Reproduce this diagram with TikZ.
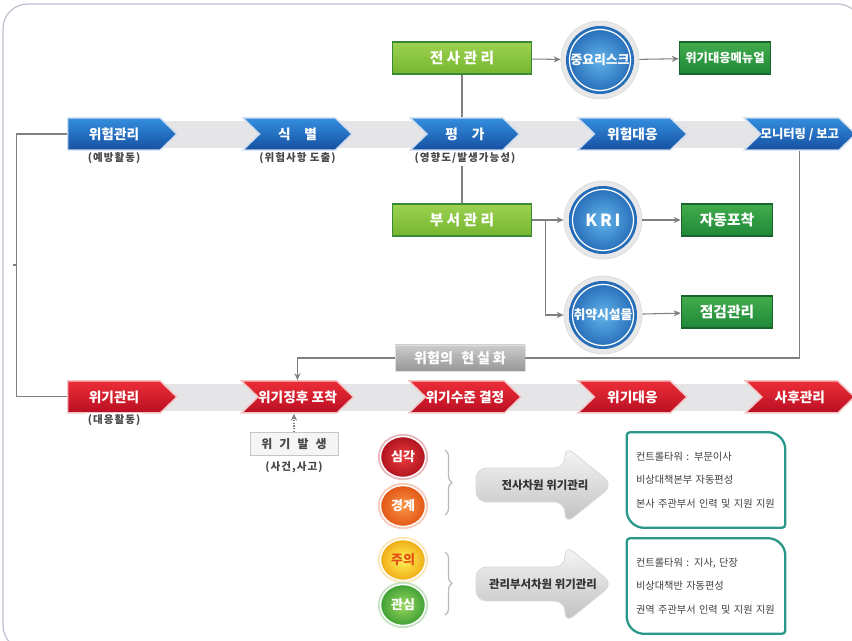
\documentclass[tikz,border=0pt]{standalone}
\usepackage{fontspec}
\setmainfont{Noto Sans CJK KR}
\usetikzlibrary{arrows.meta,positioning,shapes.symbols,shapes.geometric,decorations.pathreplacing}

\definecolor{blueT}{RGB}{52,142,222}
\definecolor{blueB}{RGB}{22,80,162}
\definecolor{blueE}{RGB}{205,220,238}
\definecolor{redT}{RGB}{236,46,56}
\definecolor{redB}{RGB}{184,14,34}
\definecolor{redE}{RGB}{242,196,196}
\definecolor{limeT}{RGB}{156,210,80}
\definecolor{limeB}{RGB}{118,182,48}
\definecolor{limeE}{RGB}{58,138,52}
\definecolor{pineT}{RGB}{66,172,76}
\definecolor{pineB}{RGB}{30,136,56}
\definecolor{pineE}{RGB}{24,100,44}
\definecolor{ballC}{RGB}{98,178,232}
\definecolor{ballE}{RGB}{26,96,176}
\definecolor{linkgray}{RGB}{128,128,128}
\definecolor{bandgray}{RGB}{229,229,231}
\definecolor{framegray}{RGB}{192,192,208}
\definecolor{boxteal}{RGB}{42,152,136}
\definecolor{subgray}{RGB}{70,70,70}
\definecolor{sevC}{RGB}{236,60,60}
\definecolor{sevE}{RGB}{176,20,32}
\definecolor{warnC}{RGB}{250,150,70}
\definecolor{warnE}{RGB}{226,86,22}
\definecolor{careC}{RGB}{255,242,90}
\definecolor{careE}{RGB}{240,172,20}
\definecolor{careT}{RGB}{228,78,20}
\definecolor{watchC}{RGB}{156,216,96}
\definecolor{watchE}{RGB}{62,160,52}

\begin{document}
\begin{tikzpicture}[x=0.02cm,y=-0.02cm,>={Stealth[length=4pt,width=3.5pt]},
    on grid,node distance=3.35cm,
    link/.style={draw=linkgray,line width=0.6pt},
    flow/.style={signal,signal to=east,signal from=west,signal pointer angle=88,
      minimum width=2.18cm,minimum height=0.64cm,inner sep=0pt,line width=0.8pt,
      text=white,font=\bfseries\fontsize{7.8}{9}\selectfont},
    first/.style={signal from=nowhere},
    bluestep/.style={flow,top color=blueT,bottom color=blueB,draw=blueE},
    redstep/.style={flow,top color=redT,bottom color=redB,draw=redE},
    note/.style={font=\bfseries\fontsize{6}{8}\selectfont\addfontfeature{LetterSpace=10},
      text=subgray,fill=white,inner sep=1pt},
    limebox/.style={rectangle,minimum width=2.78cm,minimum height=0.63cm,top color=limeT,
      bottom color=limeB,draw=limeE,line width=0.9pt,text=white,
      font=\bfseries\fontsize{8.4}{10}\selectfont},
    pinebox/.style={rectangle,minimum width=1.82cm,minimum height=0.65cm,top color=pineT,
      bottom color=pineB,draw=pineE,line width=0.9pt,text=white,
      font=\bfseries\fontsize{8.4}{10}\selectfont},
    ball/.style={circle,minimum size=1.56cm,inner sep=0pt,fill=gray!18,draw=gray!28,
      line width=0.4pt,text=white,font=\bfseries\fontsize{7.3}{8}\selectfont,
      path picture={
        \shade[inner color=ballC,outer color=ballE] (path picture bounding box.center) circle (0.68cm);
        \draw[white,line width=0.7pt] (path picture bounding box.center) circle (0.61cm);}},
    level/.style n args={3}{ellipse,minimum width=0.9cm,minimum height=0.82cm,inner sep=0pt,
      inner color=#1,outer color=#2,draw=white,line width=0.8pt,text=#3,
      preaction={draw=#2!30,line width=3pt},font=\bfseries\fontsize{7.4}{8}\selectfont},
    realbox/.style={rectangle,minimum width=2.6cm,minimum height=0.52cm,top color=gray!40,
      bottom color=gray!82,draw=gray!25,text=white,
      font=\bfseries\fontsize{8}{9}\selectfont},
    eventbox/.style={rectangle,minimum width=1.76cm,minimum height=0.44cm,fill=gray!8,
      draw=gray!45,text=subgray,font=\bfseries\fontsize{6.8}{8}\selectfont},
    bigarrow/.style={top color=gray!6,bottom color=gray!50,draw=gray!30,line width=0.5pt,
      rounded corners=6pt},
    arrowtext/.style={font=\bfseries\fontsize{6.5}{8}\selectfont,text=black!80},
    infobox/.style={rectangle,minimum width=3.16cm,minimum height=1.9cm,text width=2.8cm,
      align=left,fill=white,font=\fontsize{5.8}{13.4}\selectfont,text=black!75},
    boxedge/.style={draw=boxteal,line width=1.3pt}]

  \useasboundingbox (0,0) rectangle (852,641);
  \draw[framegray,line width=0.7pt,rounded corners=14pt] (3,4) rectangle (862,650);

  % bands behind the two chains
  \fill[bandgray] (90,121) rectangle (835,148);
  \fill[bandgray] (90,384) rectangle (835,411);

  % risk chain
  \node[bluestep,first] (r1) at (114,134)  {위험관리};
  \node[bluestep] (r2) [right=3.67cm of r1] {식\hspace{1em}별};
  \node[bluestep] (r3) [right=of r2]        {평\hspace{1em}가};
  \node[bluestep] (r4) [right=of r3]        {위험대응};
  \node[bluestep,font=\bfseries\fontsize{7}{8}\selectfont] (r5) [right=of r4] {모니터링 / 보고};

  \node[note] (n1) [below=0.48cm of r1] {(예방활동)};
  \node[note] (n2) [below=0.48cm of r2] {(위험사항 도출)};
  \node[note] (n3) [below=0.48cm of r3] {(영향도/발생가능성)};

  % crisis chain
  \node[redstep,first] (c1) [below=5.26cm of r1] {위기관리};
  \node[redstep] (c2) [below=5.26cm of r2] {위기징후 포착};
  \node[redstep] (c3) [below=5.26cm of r3] {위기수준 결정};
  \node[redstep] (c4) [below=5.26cm of r4] {위기대응};
  \node[redstep] (c5) [below=5.26cm of r5] {사후관리};

  \node[note] (n4) [below=0.46cm of c1] {(대응활동)};

  % company and department branches
  \node[limebox] (top)    at (462,58)  {전 사 관 리};
  \node[ball]    (key)    at (600,60)  {중요리스크};
  \node[pinebox,minimum width=1.7cm,font=\bfseries\fontsize{7}{8}\selectfont]
                 (manual) at (725,58)  {위기대응메뉴얼};
  \node[limebox] (dept)   at (462,220) {부 서 관 리};
  \node[ball,font=\bfseries\fontsize{9.5}{10}\selectfont]
                 (kri)    at (603,220) {K\,R\,I};
  \node[pinebox] (auto)   at (727,220) {자동포착};
  \node[ball]    (weak)   at (603,315) {취약시설물};
  \node[pinebox] (check)  at (727,312) {점검관리};

  \draw[link,->] (top) -- (key);
  \draw[link,->] (key) -- (manual);
  \draw[link] (top.south) -- (top.south |- r3.north);
  \draw[link] (dept.north |- n3.south) -- (dept.north);
  \draw[link] (dept.east) -- ++(13,0) coordinate (fork);
  \draw[link,->] (fork) -- (kri);
  \draw[link,->] (fork) |- (weak);
  \draw[link,->] (kri) -- (auto);
  \draw[link,->] (weak) -- (check);

  % loop back from risk to crisis
  \draw[link] (r1.west) -- ++(-51,0) coordinate (bend) |- (c1.west);
  \draw[link] (bend |- 0,265) -- ++(-3,0);

  \node[realbox] (real) at (460,358) {위험의\hspace{.6em}현\hspace{.2em}실\hspace{.2em}화};
  \draw[link] (r5.south) |- (real.east);
  \draw[link,->] (real.west) -| (c2.north);

  \node[eventbox] (event) at (294,444) {위\hspace{.6em}기\hspace{.6em}발\hspace{.6em}생};
  \node[note] (n5) [below=0.46cm of event] {(사건,사고)};
  \draw[link,densely dotted,->] (event.north) -- (event.north |- c2.south);

  % crisis levels
  \node[level={sevC}{sevE}{white}]     (l1) at (403,457) {심각};
  \node[level={warnC}{warnE}{white}]   (l2) at (403,506) {경계};
  \node[level={careC}{careE}{careT}]   (l3) at (403,560) {주의};
  \node[level={watchC}{watchE}{white}] (l4) at (403,605) {관심};

  \draw[gray!55,line width=0.7pt,decorate,decoration={brace,amplitude=4pt}] (445,450) -- (445,515);
  \draw[gray!55,line width=0.7pt,decorate,decoration={brace,amplitude=4pt}] (445,552) -- (445,615);

  \shade[bigarrow] (476,468) -- (565,468) -- (565,446) -- (613,485) -- (565,524) -- (565,502) -- (476,502) -- cycle;
  \node[arrowtext] (a1) at (545,485) {전사차원 위기관리};
  \shade[bigarrow] (476,567) -- (565,567) -- (565,545) -- (613,584) -- (565,623) -- (565,601) -- (476,601) -- cycle;
  \node[arrowtext] (a2) at (543,584) {관리부서차원 위기관리};

  % action boxes
  \node[infobox] (t1) at (706,480) {컨트롤타워 : 부문이사\\비상대책본부 자동편성\\본사 주관부서 인력 및 지원 지원};
  \draw[boxedge] (t1.west) [rounded corners=2pt] -- (t1.north west) [rounded corners=10pt] -- (t1.north east)
    [rounded corners=2pt] -- (t1.south east) [rounded corners=10pt] -- (t1.south west) [rounded corners=2pt] -- cycle;
  \node[infobox] (t2) at (706,586) {컨트롤타워 : 지사, 단장\\비상대책반 자동편성\\권역 주관부서 인력 및 지원 지원};
  \draw[boxedge] (t2.west) [rounded corners=2pt] -- (t2.north west) [rounded corners=10pt] -- (t2.north east)
    [rounded corners=2pt] -- (t2.south east) [rounded corners=10pt] -- (t2.south west) [rounded corners=2pt] -- cycle;
\end{tikzpicture}
\end{document}
